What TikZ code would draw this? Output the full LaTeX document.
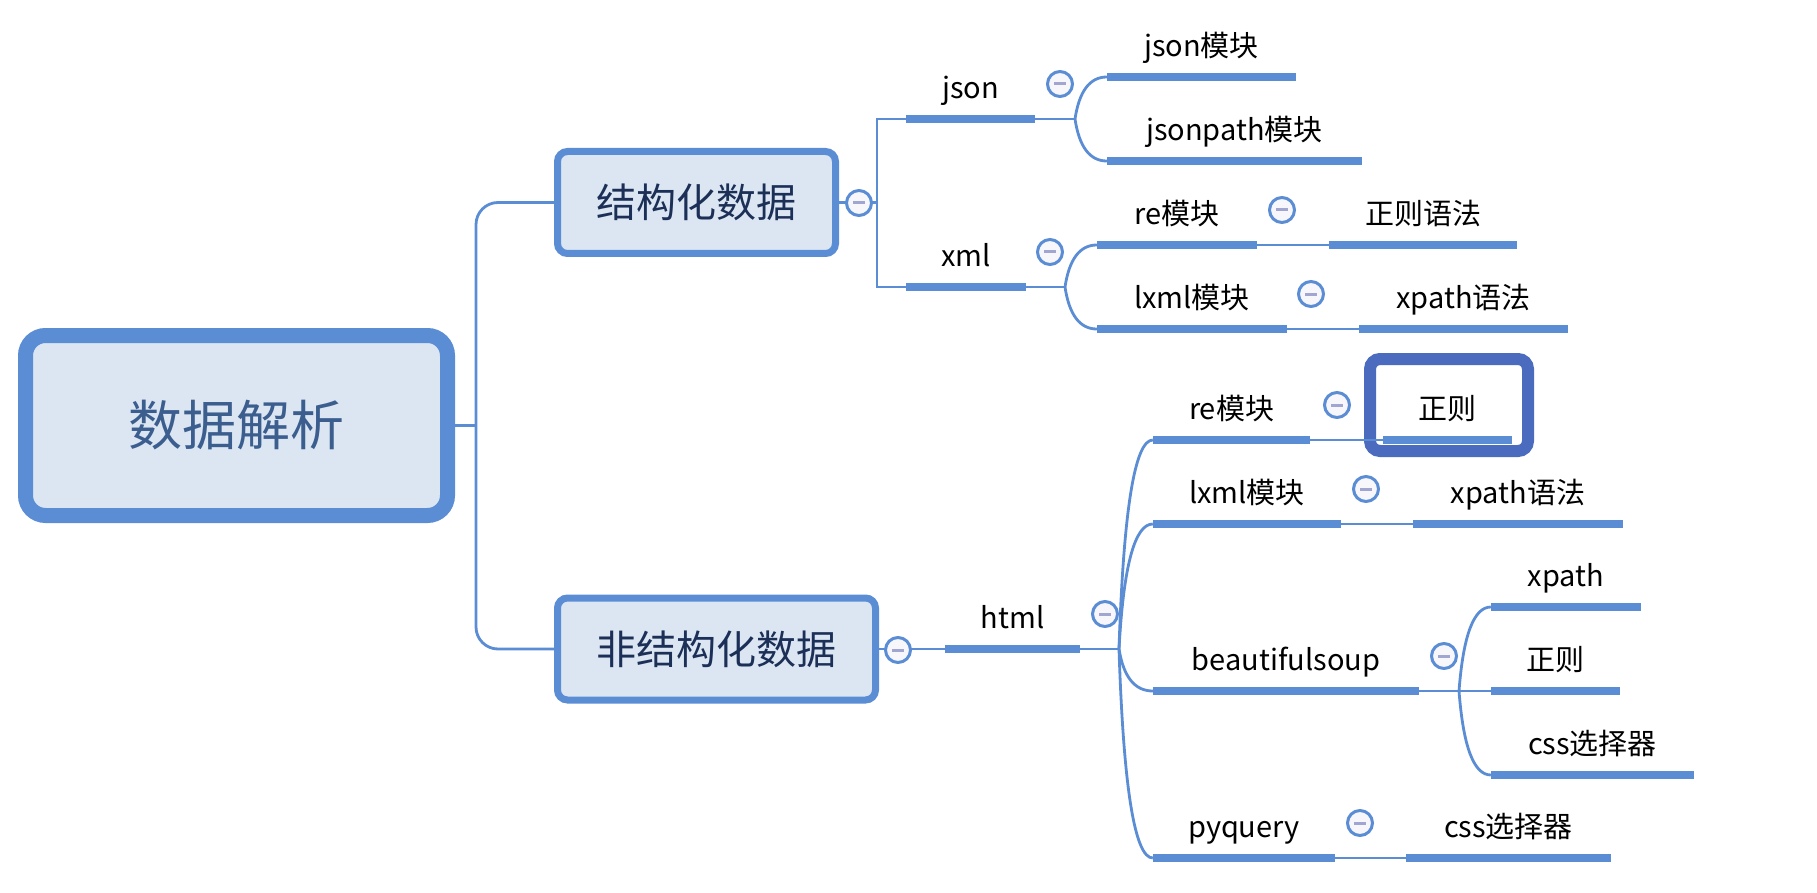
\documentclass[tikz,border=0pt]{standalone}
\usepackage{fontspec}
\setmainfont{Noto Sans CJK SC}
\usetikzlibrary{calc}
\definecolor{lineblue}{RGB}{91,141,213}
\definecolor{boxfill}{RGB}{220,230,242}
\definecolor{hlblue}{RGB}{74,107,190}
\definecolor{roottext}{RGB}{59,94,143}
\definecolor{midtext}{RGB}{27,47,87}
\definecolor{dashcol}{RGB}{160,166,207}
\definecolor{minusfill}{RGB}{247,247,251}
\tikzset{
 conn/.style={draw=lineblue, line width=2.8pt},
 bar/.style={draw=lineblue, line width=8.5pt},
 leaf/.style={minimum width=#1, inner sep=0pt, text height=22pt, text depth=20pt, anchor=south, font=\fontsize{29pt}{32pt}\selectfont},
 rootbox/.style={draw=lineblue, fill=boxfill, line width=15pt, rounded corners=20pt, minimum width=422pt, minimum height=180pt, text=roottext, font=\fontsize{54pt}{60pt}\selectfont},
 midbox/.style={draw=lineblue, fill=boxfill, line width=7pt, rounded corners=10pt, minimum width=#1, minimum height=102pt, text=midtext, font=\fontsize{40pt}{44pt}\selectfont},
 hlbox/.style={draw=hlblue, line width=12pt, rounded corners=10pt, minimum width=158pt, minimum height=92pt},
 minus/.style={circle, draw=lineblue, fill=minusfill, line width=3pt, minimum size=25pt, inner sep=0pt,
   path picture={\draw[dashcol, line width=3pt] ([xshift=-6pt]path picture bounding box.center) -- ([xshift=6pt]path picture bounding box.center);}},
}
\newcommand\leafnode[5]{%
  \node[leaf={(#3-#2)*1pt}] (#1) at ({(#2+#3)/2},#4) {#5};
  \draw[bar] (#1.south west) -- (#1.south east);}
\newcommand\branchto[2]{%
  \draw[conn] let \p1=(#1), \p2=(#2) in (\p1) .. controls ({\x1+0.1333*(\x2-\x1)},{\y1+0.6667*(\y2-\y1)}) and ({\x2-0.5333*(\x2-\x1)},\y2) .. (\p2);}
\begin{document}
\begin{tikzpicture}[x=1pt,y=-1pt]
\useasboundingbox (0,0) rectangle (1817,893);
% main boxes
\node[rootbox] (root) at (236.5,425.5) {数据解析};
\node[midbox=278pt] (s1) at (696.5,202.5) {结构化数据};
\node[midbox=318pt] (s2) at (716.5,649) {非结构化数据};
% highlight
\node[hlbox] (hl) at (1449,405) {};
% junction coordinates
\coordinate (rj) at (476,425.5);
\coordinate (j1) at (877,202.5);
\coordinate (jj) at (1075,119);
\coordinate (xj) at (1065,287);
\coordinate (hj) at (1119,649);
\coordinate (bj) at (1459,691);
% leaves
\leafnode{json}{906}{1035}{119}{json}
\leafnode{xml}{906}{1026}{287}{xml}
\leafnode{html}{945}{1080}{649}{html}
\leafnode{jm}{1107}{1296}{77}{json模块}
\leafnode{jpm}{1107}{1362}{161}{jsonpath模块}
\leafnode{xre}{1097}{1257}{245}{re模块}
\leafnode{xlx}{1097}{1287}{329}{lxml模块}
\leafnode{zzyf}{1329}{1517}{245}{正则语法}
\leafnode{xpyf}{1359}{1568}{329}{xpath语法}
\leafnode{hre}{1153}{1310}{440}{re模块}
\leafnode{hlx}{1153}{1341}{524}{lxml模块}
\leafnode{hbs}{1153}{1419}{691}{beautifulsoup}
\leafnode{hpq}{1153}{1335}{858}{pyquery}
\leafnode{hzz}{1383}{1512}{440}{正则}
\leafnode{hxp}{1413}{1623}{524}{xpath语法}
\leafnode{bxp}{1491}{1641}{607}{xpath}
\leafnode{bzz}{1491}{1620}{691}{正则}
\leafnode{bcss}{1491}{1694}{775}{css选择器}
\leafnode{pcss}{1406}{1611}{858}{css选择器}
% connectors
\draw[conn] (root.east) -- (rj);
\draw[conn, rounded corners=22pt] (s1.west) -| (rj) |- (s2.west);
\draw[conn] (s1.east) -- (j1);
\draw[conn] (json.south west) -| (j1) |- (xml.south west);
\draw[conn] (s2.east) -- (html.south west);
\draw[conn] (json.south east) -- (jj);
\branchto{jj}{jm.south west}
\branchto{jj}{jpm.south west}
\draw[conn] (xml.south east) -- (xj);
\branchto{xj}{xre.south west}
\branchto{xj}{xlx.south west}
\draw[conn] (xre.south east) -- (zzyf.south west);
\draw[conn] (xlx.south east) -- (xpyf.south west);
\draw[conn] (html.south east) -- (hj);
\branchto{hj}{hre.south west}
\branchto{hj}{hlx.south west}
\branchto{hj}{hbs.south west}
\branchto{hj}{hpq.south west}
\draw[conn] (hre.south east) -- (hzz.south west);
\draw[conn] (hlx.south east) -- (hxp.south west);
\draw[conn] (hbs.south east) -- (bj);
\branchto{bj}{bxp.south west}
\draw[conn] (bj) -- (bzz.south west);
\branchto{bj}{bcss.south west}
\draw[conn] (hpq.south east) -- (pcss.south west);
% collapse markers
\node[minus] (m1) at (859,203) {};
\node[minus] (m2) at (898,650) {};
\node[minus] (mjson) at (1060,84) {};
\node[minus] (mxml) at (1050,252) {};
\node[minus] (mxre) at (1282,210) {};
\node[minus] (mxlx) at (1311,294) {};
\node[minus] (mhtml) at (1105,614) {};
\node[minus] (mhre) at (1337,405) {};
\node[minus] (mhlx) at (1366,489) {};
\node[minus] (mhbs) at (1444,656) {};
\node[minus] (mhpq) at (1360,823) {};
\end{tikzpicture}
\end{document}
